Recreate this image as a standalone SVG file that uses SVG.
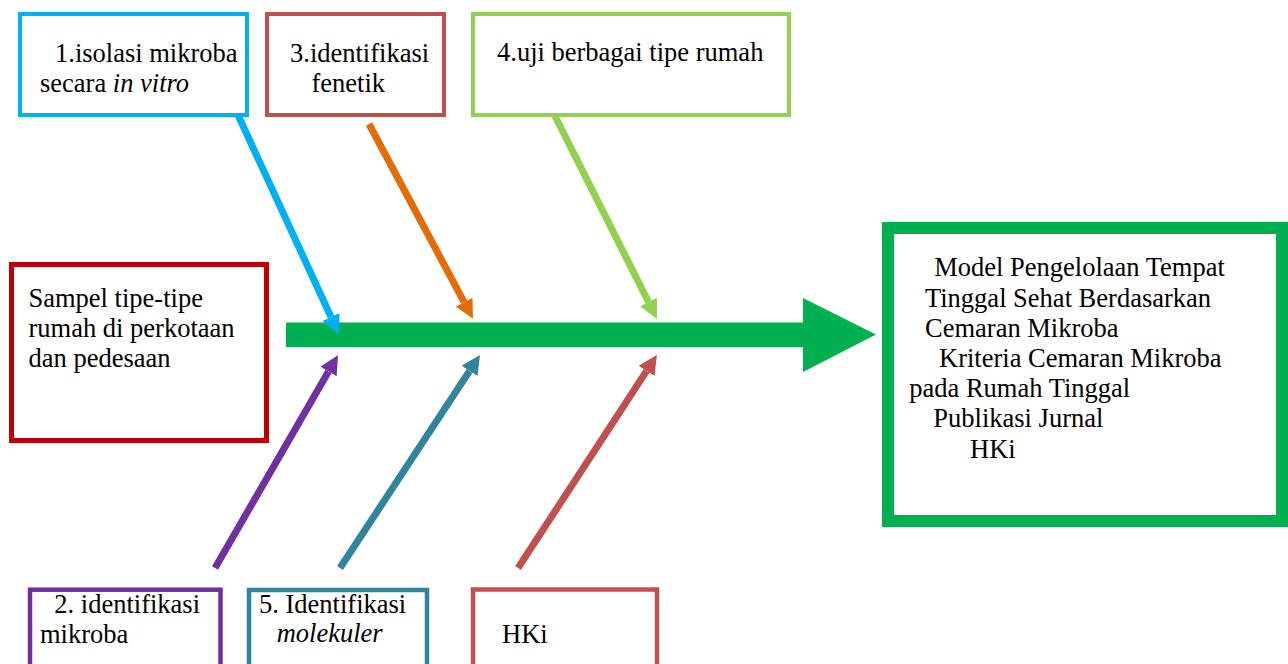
<svg xmlns="http://www.w3.org/2000/svg" width="1288" height="664" viewBox="0 0 1288 664">
<style>
  text { font-family: "Liberation Serif", "Times New Roman", serif; font-size: 26.5px; fill: #000; }
  .it { font-style: italic; }
  .box { fill: #fff; }
  .conn { fill: none; stroke-width: 7; stroke-linecap: butt; }
</style>
<defs>
  <marker id="ah-blue" viewBox="0 0 10 10" refX="0" refY="5" markerWidth="2.7" markerHeight="2.7" markerUnits="strokeWidth" orient="auto"><path d="M0,0 L10,5 L0,10 z" fill="#00B0F0"/></marker>
  <marker id="ah-orange" viewBox="0 0 10 10" refX="0" refY="5" markerWidth="2.7" markerHeight="2.7" markerUnits="strokeWidth" orient="auto"><path d="M0,0 L10,5 L0,10 z" fill="#E36C09"/></marker>
  <marker id="ah-lgreen" viewBox="0 0 10 10" refX="0" refY="5" markerWidth="2.7" markerHeight="2.7" markerUnits="strokeWidth" orient="auto"><path d="M0,0 L10,5 L0,10 z" fill="#92D050"/></marker>
  <marker id="ah-purple" viewBox="0 0 10 10" refX="0" refY="5" markerWidth="2.7" markerHeight="2.7" markerUnits="strokeWidth" orient="auto"><path d="M0,0 L10,5 L0,10 z" fill="#7030A0"/></marker>
  <marker id="ah-teal" viewBox="0 0 10 10" refX="0" refY="5" markerWidth="2.7" markerHeight="2.7" markerUnits="strokeWidth" orient="auto"><path d="M0,0 L10,5 L0,10 z" fill="#31849B"/></marker>
  <marker id="ah-red" viewBox="0 0 10 10" refX="0" refY="5" markerWidth="2.7" markerHeight="2.7" markerUnits="strokeWidth" orient="auto"><path d="M0,0 L10,5 L0,10 z" fill="#C0504D"/></marker>
</defs>
<rect width="1288" height="664" fill="#fff"/>

<g id="connectors">
  <polygon points="286,322.5 803,322.5 803,298 876,334.5 803,372 803,347 286,347" fill="#00B050"/>
  <line class="conn" x1="238" y1="115" x2="331" y2="317" stroke="#00B0F0" marker-end="url(#ah-blue)"/>
  <line class="conn" x1="369" y1="124" x2="464.1" y2="302.2" stroke="#E36C09" marker-end="url(#ah-orange)"/>
  <line class="conn" x1="555" y1="116" x2="648.5" y2="302" stroke="#92D050" marker-end="url(#ah-lgreen)"/>
  <line class="conn" x1="215" y1="568" x2="328.5" y2="371.5" stroke="#7030A0" marker-end="url(#ah-purple)"/>
  <line class="conn" x1="340" y1="568" x2="469.6" y2="370.9" stroke="#31849B" marker-end="url(#ah-teal)"/>
  <line class="conn" x1="518" y1="568" x2="646.6" y2="370.9" stroke="#C0504D" marker-end="url(#ah-red)"/>
</g>

<g id="node-isolasi">
  <rect class="box" x="20" y="14" width="227" height="101" stroke="#00B0F0" stroke-width="4"/>
  <text x="55" y="62">1.isolasi mikroba</text>
  <text x="40" y="92">secara <tspan class="it">in vitro</tspan></text>
</g>

<g id="node-fenetik">
  <rect class="box" x="267" y="14" width="177" height="101" stroke="#C0504D" stroke-width="4"/>
  <text x="290" y="62">3.identifikasi</text>
  <text x="311.5" y="92">fenetik</text>
</g>

<g id="node-uji">
  <rect class="box" x="473" y="14" width="316" height="101" stroke="#92D050" stroke-width="4"/>
  <text x="497" y="61">4.uji berbagai tipe rumah</text>
</g>

<g id="node-sampel">
  <rect class="box" x="11.5" y="264.5" width="255" height="176" stroke="#C00000" stroke-width="5"/>
  <text x="28.5" y="306.7">Sampel tipe-tipe</text>
  <text x="28.5" y="337.3">rumah di perkotaan</text>
  <text x="28.5" y="367.3">dan pedesaan</text>
</g>

<g id="node-model">
  <rect class="box" x="888" y="228" width="394" height="293" stroke="#00B050" stroke-width="12"/>
  <text x="934.3" y="276">Model Pengelolaan Tempat</text>
  <text x="925" y="306.7">Tinggal Sehat Berdasarkan</text>
  <text x="925" y="336.7">Cemaran Mikroba</text>
  <text x="939" y="367.3">Kriteria Cemaran Mikroba</text>
  <text x="909.3" y="397.3">pada Rumah Tinggal</text>
  <text x="933.3" y="427.3">Publikasi Jurnal</text>
  <text x="970" y="458">HKi</text>
</g>

<g id="node-mikroba">
  <rect class="box" x="30" y="589.7" width="190.5" height="100" stroke="#7030A0" stroke-width="4.5"/>
  <text x="54.3" y="612.7">2. identifikasi</text>
  <text x="40" y="642.7">mikroba</text>
</g>

<g id="node-molekuler">
  <rect class="box" x="249" y="590" width="178" height="100" stroke="#31849B" stroke-width="4.5"/>
  <text x="259" y="612.7">5. Identifikasi</text>
  <text class="it" x="276.7" y="641.7">molekuler</text>
</g>

<g id="node-hki">
  <rect class="box" x="473" y="589.5" width="184" height="100" stroke="#C0504D" stroke-width="4.5"/>
  <text x="502" y="643.3">HKi</text>
</g>
</svg>
